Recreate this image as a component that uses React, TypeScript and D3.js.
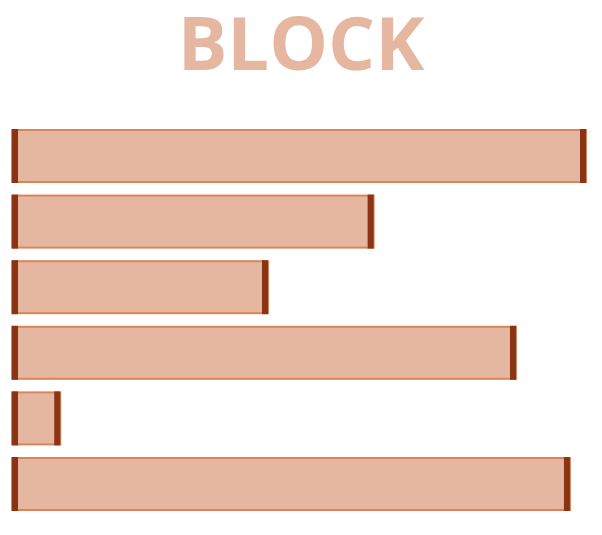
import React from "react";
import * as d3 from "d3";

const categories = ["A", "B", "C", "D", "E", "F"];
const values = [100, 63, 44.6, 87.8, 8.4, 97.2];
const title = "BLOCK";

const W = 602;
const H = 535;

const App = () => {
  const x = d3.scaleLinear().domain([0, 100]).range([12, 586]);
  const y = d3
    .scaleBand()
    .domain(categories)
    .range([123.2, 516.8])
    .paddingInner(0.177)
    .paddingOuter(0.0885);

  const capW = 6;
  const bw = y.bandwidth();

  return (
    <div style={{ position: "fixed", left: 0, top: 0 }}>
      <svg width={W} height={H} style={{ display: "block" }}>
        <text
          x={W / 2}
          y={70}
          textAnchor="middle"
          fontFamily="'Open Sans', sans-serif"
          fontWeight={700}
          fontSize={74}
          fill="#e6b7a0"
        >
          {title}
        </text>
        {categories.map((c, i) => {
          const x0 = x(0);
          const x1 = x(values[i]);
          const y0 = y(c) ?? 0;
          return (
            <g key={c}>
              <rect
                x={x0}
                y={y0 + 1}
                width={x1 - x0}
                height={bw - 2}
                fill="#e6b7a0"
                stroke="#d98559"
                strokeWidth={2}
              />
              <rect x={x0} y={y0} width={capW} height={bw} fill="#8b3415" />
              <rect x={x1 - capW} y={y0} width={capW} height={bw} fill="#8b3415" />
            </g>
          );
        })}
      </svg>
    </div>
  );
};

export default App;
